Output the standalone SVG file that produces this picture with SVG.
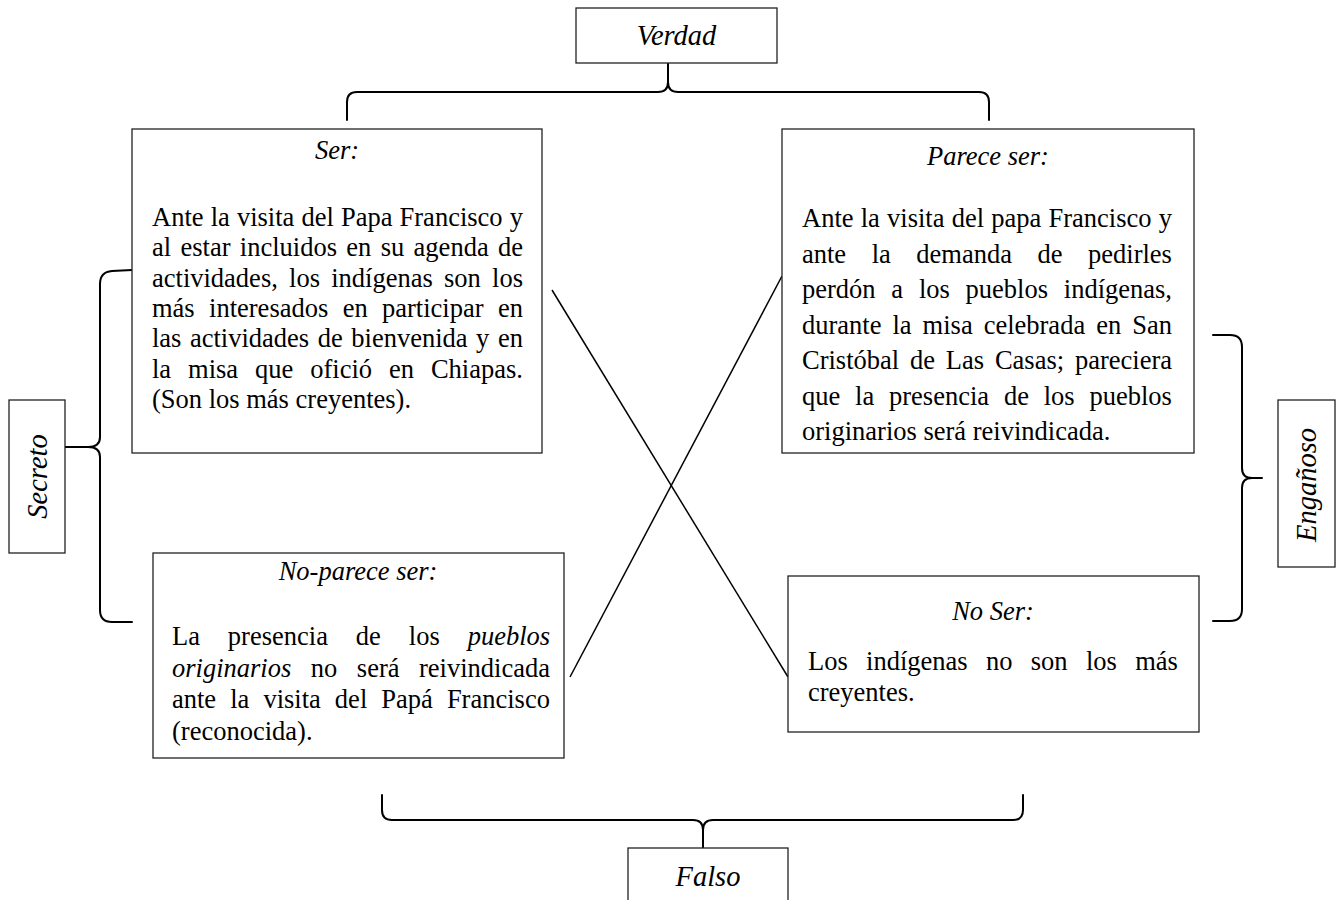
<svg xmlns="http://www.w3.org/2000/svg" width="1336" height="900" viewBox="0 0 1336 900">
<style>
  .box { fill: #fff; stroke: #222; stroke-width: 1.3; }
  .brace { fill: none; stroke: #000; stroke-width: 2; stroke-linecap: round; }
  .xline { stroke: #000; stroke-width: 1.5; }
  text { font-family: "Liberation Serif", "Times New Roman", serif; font-size: 26.5px; fill: #000; }
  .h { font-style: italic; text-anchor: middle; }
  .lbl { font-style: italic; text-anchor: middle; font-size: 28.5px; }
  .i { font-style: italic; }
</style>
<rect width="1336" height="900" fill="#fff"/>

<g id="connectors">
  <line class="xline" x1="552" y1="290" x2="788" y2="677"/>
  <line class="xline" x1="782" y1="276" x2="570" y2="677"/>
  <path class="brace" d="M347,120 L347,102 Q347,92 357,92 L658,92 Q668,92 668,82 L668,63 M668,82 Q668,92 678,92 L979,92 Q989,92 989,102 L989,120"/>
  <path class="brace" d="M382,795 L382,810 Q382,820 392,820 L693,820 Q703,820 703,830 L703,848 M703,830 Q703,820 713,820 L1013,820 Q1023,820 1023,810 L1023,795"/>
  <path class="brace" d="M132,270 L112,271 Q100,272 100,284 L100,437 Q100,447 88,447 L65,447 M88,447 Q100,447 100,457 L100,610 Q100,622 112,622 L132,622"/>
  <path class="brace" d="M1213,335 L1230,335 Q1242,335 1242,347 L1242,468 Q1242,478 1252,478 L1262,478 M1252,478 Q1242,478 1242,488 L1242,609 Q1242,621 1230,621 L1213,621"/>
</g>

<g id="verdad">
  <rect class="box" x="576" y="8" width="201" height="55"/>
  <text class="lbl" x="676.5" y="45">Verdad</text>
</g>

<g id="falso">
  <rect class="box" x="628" y="848" width="160" height="70"/>
  <text class="lbl" x="708" y="886">Falso</text>
</g>

<g id="secreto">
  <rect class="box" x="9" y="400" width="56" height="153"/>
  <text class="lbl" transform="translate(47,476.5) rotate(-90)">Secreto</text>
</g>

<g id="enganoso">
  <rect class="box" x="1278" y="400" width="57" height="167"/>
  <text class="lbl" transform="translate(1316,485) rotate(-90)">Engañoso</text>
</g>

<g id="ser">
  <rect class="box" x="132" y="129" width="410" height="324"/>
  <text class="h" x="337" y="159">Ser:</text>
  <text x="152" y="226" word-spacing="0.5">Ante la visita del Papa Francisco y</text>
  <text x="152" y="256.3" word-spacing="2.72">al estar incluidos en su agenda de</text>
  <text x="152" y="286.6" word-spacing="4.6">actividades, los indígenas son los</text>
  <text x="152" y="316.9" word-spacing="7.75">más interesados en participar en</text>
  <text x="152" y="347.2" word-spacing="1.92">las actividades de bienvenida y en</text>
  <text x="152" y="377.5" word-spacing="10.3">la misa que ofició en Chiapas.</text>
  <text x="152" y="407.8">(Son los más creyentes).</text>
</g>

<g id="parece-ser">
  <rect class="box" x="782" y="129" width="412" height="324"/>
  <text class="h" x="988" y="165">Parece ser:</text>
  <text x="802" y="227" word-spacing="0.58">Ante la visita del papa Francisco y</text>
  <text x="802" y="262.5" word-spacing="18.9">ante la demanda de pedirles</text>
  <text x="802" y="298" word-spacing="9.15">perdón a los pueblos indígenas,</text>
  <text x="802" y="333.5" word-spacing="4.38">durante la misa celebrada en San</text>
  <text x="802" y="369" word-spacing="4.2">Cristóbal de Las Casas; pareciera</text>
  <text x="802" y="404.5" word-spacing="8.2">que la presencia de los pueblos</text>
  <text x="802" y="440">originarios será reivindicada.</text>
</g>

<g id="no-parece-ser">
  <rect class="box" x="153" y="553" width="411" height="205"/>
  <text class="h" x="358" y="580">No-parece ser:</text>
  <text x="172" y="645" word-spacing="21.3">La presencia de los <tspan class="i">pueblos</tspan></text>
  <text x="172" y="676.5" word-spacing="12.9"><tspan class="i">originarios</tspan> no será reivindicada</text>
  <text x="172" y="708" word-spacing="7.44">ante la visita del Papá Francisco</text>
  <text x="172" y="739.5">(reconocida).</text>
</g>

<g id="no-ser">
  <rect class="box" x="788" y="576" width="411" height="156"/>
  <text class="h" x="993" y="620">No Ser:</text>
  <text x="808" y="670" word-spacing="11.7">Los indígenas no son los más</text>
  <text x="808" y="701">creyentes.</text>
</g>
</svg>
